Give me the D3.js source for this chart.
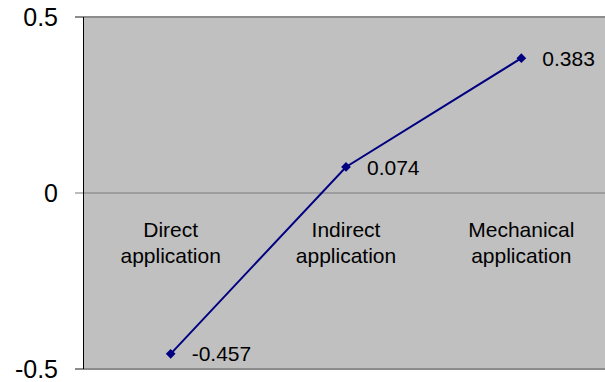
<!DOCTYPE html>
<html>
<head>
<meta charset="utf-8">
<script src="https://cdn.jsdelivr.net/npm/d3@7"></script>
<style>
  body { margin: 0; background: #fff; }
  text { font-family: "Liberation Sans", Arial, sans-serif; fill: #000; }
</style>
</head>
<body>
<svg id="chart" width="605" height="382"></svg>
<script>
// data
var categories = [["Direct", "application"], ["Indirect", "application"], ["Mechanical", "application"]];
var values = [-0.457, 0.074, 0.383];
var yTicks = [0.5, 0, -0.5];
var yTickLabels = ["0.5", "0", "-0.5"];

var svg = d3.select("#chart");
var plotLeft = 83, plotRight = 609, plotTop = 17, plotBottom = 369;

var x = d3.scaleBand()
  .domain(d3.range(categories.length))
  .range([plotLeft, plotRight])
  .padding(0);

var y = d3.scaleLinear()
  .domain([-0.5, 0.5])
  .range([plotBottom, plotTop]);

// plot area
svg.append("rect")
  .attr("x", plotLeft)
  .attr("y", plotTop)
  .attr("width", 605 - plotLeft)
  .attr("height", plotBottom - plotTop)
  .attr("fill", "#c0c0c0");

// horizontal lines at each tick (top/bottom borders + zero line)
svg.append("g").attr("class", "ygrid")
  .selectAll("line")
  .data(yTicks)
  .enter().append("line")
  .attr("x1", plotLeft - 8)
  .attr("x2", 605)
  .attr("y1", function(d) { return y(d); })
  .attr("y2", function(d) { return y(d); })
  .attr("stroke", function(d) { return d == 0 ? "#7a7a7a" : "#8c8c8c"; })
  .attr("stroke-width", function(d) { return d == 0 ? 1.2 : 2; });

// y axis line
svg.append("line")
  .attr("x1", plotLeft + 0.5).attr("x2", plotLeft + 0.5)
  .attr("y1", plotTop).attr("y2", plotBottom)
  .attr("stroke", "#000").attr("stroke-width", 1);

// tick labels
svg.append("g").attr("class", "yaxis")
  .selectAll("text")
  .data(yTicks)
  .enter().append("text")
  .attr("x", 58)
  .attr("y", function(d) { return y(d); })
  .attr("dy", "0.36em")
  .attr("text-anchor", "end")
  .style("font-size", "25px")
  .text(function(d, i) { return yTickLabels[i]; });

// category labels
var cat = svg.append("g").attr("class", "categories")
  .selectAll("text")
  .data(categories)
  .enter().append("text")
  .attr("x", function(d, i) { return x(i) + x.bandwidth() / 2; })
  .attr("y", 237)
  .attr("text-anchor", "middle")
  .style("font-size", "21px");
cat.selectAll("tspan")
  .data(function(d) { return d; })
  .enter().append("tspan")
  .attr("x", function() { return d3.select(this.parentNode).attr("x"); })
  .attr("dy", function(d, j) { return j == 0 ? 0 : 26; })
  .text(function(d) { return d; });

// series line
var line = d3.line()
  .x(function(d, i) { return x(i) + x.bandwidth() / 2; })
  .y(function(d) { return y(d); });

svg.append("path")
  .datum(values)
  .attr("d", line)
  .attr("fill", "none")
  .attr("stroke", "#000080")
  .attr("stroke-width", 2);

// diamond markers
svg.append("g").attr("class", "data")
  .selectAll("path")
  .data(values)
  .enter().append("path")
  .attr("d", d3.symbol().type(d3.symbolDiamond2).size(60))
  .attr("transform", function(d, i) {
    return "translate(" + (x(i) + x.bandwidth() / 2) + "," + y(d) + ")";
  })
  .attr("fill", "#000080");

// value labels (plain hyphen for negatives, like the original)
svg.append("g").attr("class", "labels")
  .selectAll("text")
  .data(values)
  .enter().append("text")
  .attr("x", function(d, i) { return x(i) + x.bandwidth() / 2 + 21; })
  .attr("y", function(d) { return y(d); })
  .attr("dy", "0.36em")
  .style("font-size", "21px")
  .text(function(d) { return d.toFixed(3); });
</script>
</body>
</html>
